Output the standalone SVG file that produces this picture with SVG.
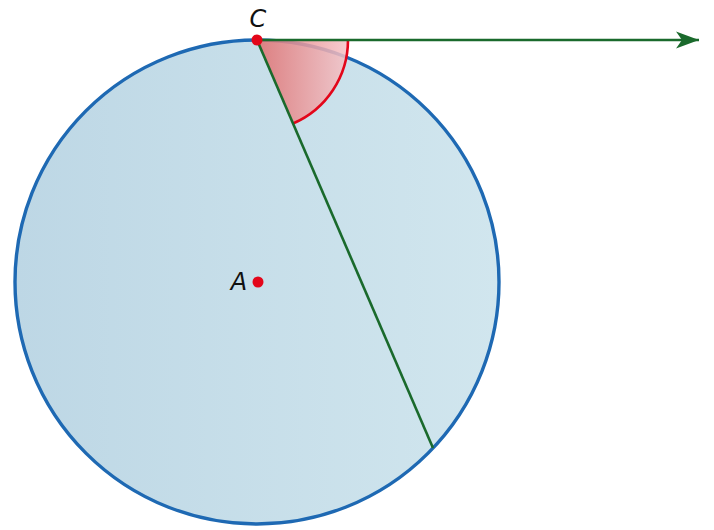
<svg xmlns="http://www.w3.org/2000/svg" width="714" height="530" viewBox="0 0 714 530">
<defs>
<linearGradient id="cg" x1="0" y1="0" x2="1" y2="0">
<stop offset="0" stop-color="#bdd7e5"/>
<stop offset="1" stop-color="#d1e6ee"/>
</linearGradient>
<linearGradient id="sg" x1="257" y1="0" x2="349" y2="0" gradientUnits="userSpaceOnUse">
<stop offset="0" stop-color="#e06e6e"/>
<stop offset="1" stop-color="#f5c4c8"/>
</linearGradient>
<marker id="ah" markerWidth="26" markerHeight="20" refX="23" refY="10" orient="auto" markerUnits="userSpaceOnUse">
<path d="M23,10 L0,1.5 L6,10 L0,18.5 Z" fill="#1a6a2c"/>
</marker>
<style>
.ln{stroke:#1a6a2c;stroke-width:2.6;fill:none}
.lbl{font-family:"DejaVu Sans",sans-serif;font-style:italic;font-size:24px;fill:#111}
.pt{fill:#e3061a}
</style>
</defs>
<g id="circle">
<circle cx="257" cy="282" r="242" fill="url(#cg)" stroke="#1e69b3" stroke-width="3.4"/>
</g>
<g id="angle">
<path d="M257,40 L348,40 A91,91 0 0 1 293,123.5 Z" fill="url(#sg)" fill-opacity="0.85"/>
<path d="M348,40 A91,91 0 0 1 293,123.5" fill="none" stroke="#e3061a" stroke-width="2.6"/>
</g>
<g id="connectors">
<line class="ln" x1="257" y1="40" x2="699" y2="40" marker-end="url(#ah)"/>
<line class="ln" x1="257" y1="40" x2="433" y2="448"/>
</g>
<g id="pointC">
<circle class="pt" cx="257" cy="40" r="5.5"/>
<text class="lbl" x="258" y="27" text-anchor="middle">C</text>
</g>
<g id="pointA">
<circle class="pt" cx="258" cy="282" r="5.5"/>
<text class="lbl" x="239" y="290" text-anchor="middle">A</text>
</g>
</svg>
